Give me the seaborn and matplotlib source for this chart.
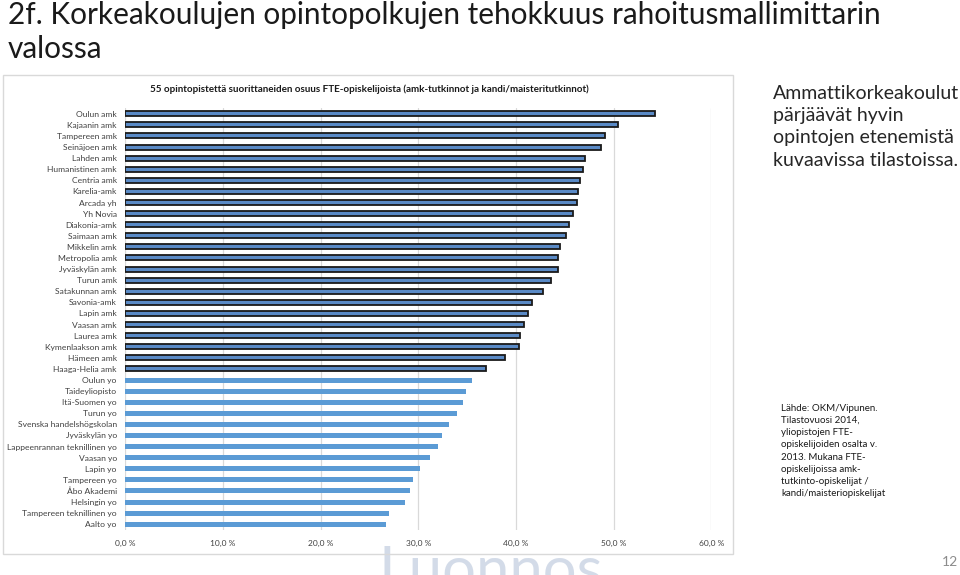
import matplotlib
matplotlib.use("Agg")
import matplotlib.pyplot as plt
import seaborn as sns
import pandas as pd
from matplotlib.patches import Rectangle

institutions = [
    "Oulun amk", "Kajaanin amk", "Tampereen amk", "Seinäjoen amk", "Lahden amk",
    "Humanistinen amk", "Centria amk", "Karelia-amk", "Arcada yh", "Yh Novia",
    "Diakonia-amk", "Saimaan amk", "Mikkelin amk", "Metropolia amk", "Jyväskylän amk",
    "Turun amk", "Satakunnan amk", "Savonia-amk", "Lapin amk", "Vaasan amk",
    "Laurea amk", "Kymenlaakson amk", "Hämeen amk", "Haaga-Helia amk",
    "Oulun yo", "Taideyliopisto", "Itä-Suomen yo", "Turun yo",
    "Svenska handelshögskolan", "Jyväskylän yo", "Lappeenrannan teknillinen yo",
    "Vaasan yo", "Lapin yo", "Tampereen yo", "Åbo Akademi", "Helsingin yo",
    "Tampereen teknillinen yo", "Aalto yo",
]
shares = [
    54.2, 50.4, 49.1, 48.7, 47.1,
    46.9, 46.6, 46.4, 46.3, 45.8,
    45.4, 45.1, 44.5, 44.3, 44.3,
    43.6, 42.8, 41.6, 41.2, 40.8,
    40.4, 40.3, 38.9, 36.9,
    35.5, 34.9, 34.6, 34.0,
    33.1, 32.4, 32.0,
    31.2, 30.2, 29.5, 29.2, 28.6,
    27.0, 26.7,
]
sector = ["amk"] * 24 + ["yo"] * 14
x_ticks = [0, 10, 20, 30, 40, 50, 60]
x_tick_labels = ["0,0 %", "10,0 %", "20,0 %", "30,0 %", "40,0 %", "50,0 %", "60,0 %"]

df = pd.DataFrame({"inst": institutions, "share": shares, "sector": sector})

sns.set_theme(style="white")
plt.rcParams["font.family"] = ["Lato", "DejaVu Sans"]

fig = plt.figure(figsize=(9.6, 5.75), dpi=100)
fig.patch.set_facecolor("white")

# watermark (behind everything)
fig.text(491 / 960, 1 - 545 / 575, "Luonnos", ha="center", va="top", fontsize=43,
         color="#c9d3e3", alpha=0.8, zorder=-5)

# chart frame
fig.patches.append(Rectangle((3 / 960, 1 - 554 / 575), 730 / 960, 479 / 575,
                             transform=fig.transFigure, fill=False,
                             edgecolor="#d9d9d9", linewidth=1.0, zorder=0))

ax = fig.add_axes([125.2 / 960, 1 - 529.8 / 575, 586.1 / 960, 421.6 / 575])
ax.patch.set_alpha(0)
sns.barplot(data=df, y="inst", x="share", hue="sector", dodge=False,
            palette={"amk": "#5a8ac6", "yo": "#5b9bd5"}, width=0.45,
            orient="h", ax=ax, legend=False, saturation=1)
for bar in ax.containers[0]:
    bar.set_edgecolor("#1a1a1a")
    bar.set_linewidth(1.3)
for bar in ax.containers[1]:
    bar.set_edgecolor("none")
    bar.set_linewidth(0)

ax.set_xlim(0, 60)
ax.set_ylim(len(institutions) - 0.5, -0.5)
ax.set_xticks(x_ticks)
ax.set_xticklabels(x_tick_labels)
ax.set_xlabel("")
ax.set_ylabel("")
ax.grid(axis="x", color="#d9d9d9", linewidth=0.9)
ax.set_axisbelow(True)
for s in ax.spines.values():
    s.set_visible(False)
ax.tick_params(axis="y", labelsize=6.1, colors="#404040", length=0, pad=6)
ax.tick_params(axis="x", labelsize=6.0, colors="#404040", length=0, pad=7)

# chart title
fig.text(369 / 960, 1 - 89 / 575, "55 opintopistettä suorittaneiden osuus FTE-opiskelijoista (amk-tutkinnot ja kandi/maisteritutkinnot)",
         ha="center", va="center", fontsize=7.1, fontweight="bold", color="#1a1a1a")

# slide title
fig.text(8 / 960, 1 - 1 / 575, "2f. Korkeakoulujen opintopolkujen tehokkuus rahoitusmallimittarin\nvalossa",
         ha="left", va="top", fontsize=21.4, color="#1a1a1a", linespacing=1.28)

# right side text
fig.text(773 / 960, 1 - 85 / 575,
         "Ammattikorkeakoulut\npärjäävät hyvin\nopintojen etenemistä\nkuvaavissa tilastoissa.",
         ha="left", va="top", fontsize=14, color="#262626", linespacing=1.37)

fig.text(781 / 960, 1 - 404 / 575,
         "Lähde: OKM/Vipunen.\nTilastovuosi 2014,\nyliopistojen FTE-\nopiskelijoiden osalta v.\n2013. Mukana FTE-\nopiskelijoissa amk-\ntutkinto-opiskelijat /\nkandi/maisteriopiskelijat",
         ha="left", va="top", fontsize=7, color="#1a1a1a", linespacing=1.45)

# page number
fig.text(958 / 960, 1 - 562 / 575, "12", ha="right", va="center", fontsize=10, color="#8c8c8c")

fig.savefig("out.png", dpi=100, facecolor="white")
